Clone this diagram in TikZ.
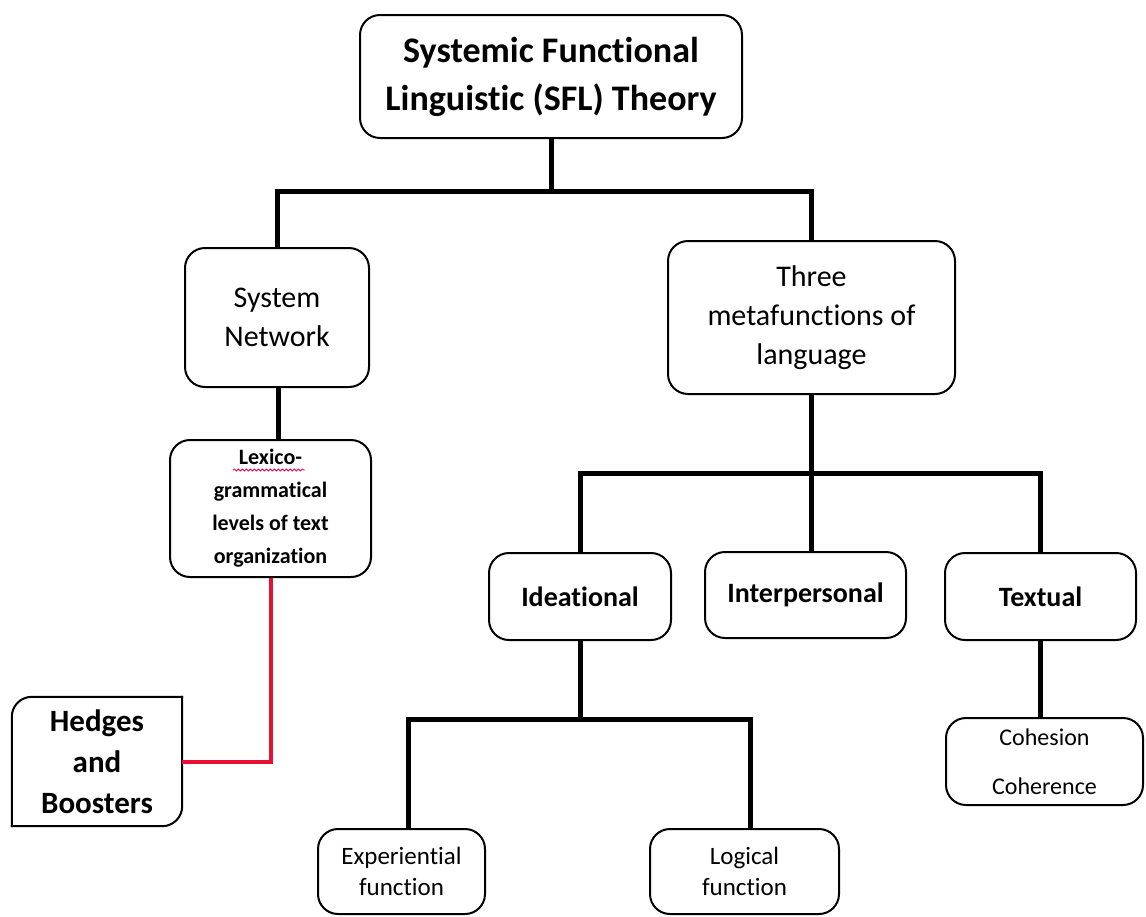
\documentclass[tikz,border=0pt]{standalone}
\usepackage{fontspec}
\setmainfont{Carlito}[Ligatures={NoCommon}]
\usetikzlibrary{calc, decorations.pathmorphing}
\definecolor{linkred}{RGB}{232,16,48}
\tikzset{
  sfl_box/.style = {align=center, inner sep=0pt, text centered,
    draw=black, line width=2pt, rounded corners=20pt},% boite arrondie
  sfl_big/.style = {sfl_box, font=\fontsize{36}{48}\selectfont\bfseries},% titre
  sfl_mid/.style = {sfl_box, font=\fontsize{30}{39}\selectfont},% niveau 1
  sfl_bold/.style = {sfl_box, font=\fontsize{28}{34}\selectfont\bfseries},% metafonctions
  sfl_small/.style = {sfl_box, font=\fontsize{25}{31}\selectfont},% feuilles
  conn/.style = {line width=5pt, black},
  conn_r/.style = {line width=4pt, linkred}
}
\begin{document}
\begin{tikzpicture}[x=1pt, y=-1pt]
\useasboundingbox (0,0) rectangle (1146,916);

\node[sfl_big, minimum width=382pt, minimum height=123pt] (t1) at (551,76.5)
	{Systemic Functional\\Linguistic (SFL) Theory};
\node[sfl_mid, minimum width=184pt, minimum height=139pt] (sn) at (277,317.5)
	{System\\Network};
\node[sfl_mid, minimum width=287pt, minimum height=153pt] (mf) at (811.5,317.5)
	{Three\\metafunctions of\\language};
\node[sfl_box, font=\fontsize{22}{33}\selectfont\bfseries,
	minimum width=201pt, minimum height=137pt] (lx) at (270.5,508.5)
	{Lexico-\\grammatical\\levels of text\\organization};
\node[align=center, inner sep=0pt, font=\fontsize{31}{41}\selectfont\bfseries,
	minimum width=170pt, minimum height=129pt] (hb) at (97,761.5)
	{Hedges\\and\\Boosters};
\node[sfl_bold, minimum width=182pt, minimum height=87pt] (id) at (580,596.5) {Ideational};
\node[sfl_bold, minimum width=201pt, minimum height=86pt] (ip) at (805.5,595) {Interpersonal};
\node[sfl_bold, minimum width=191pt, minimum height=87pt] (tx) at (1040.5,596.5) {Textual};
\node[sfl_small, font=\fontsize{24}{49}\selectfont,
	minimum width=197pt, minimum height=87pt] (co) at (1044.5,761.5)
	{Cohesion\\Coherence};
\node[sfl_small, minimum width=167pt, minimum height=85pt] (ex) at (401.5,871.5)
	{Experiential\\function};
\node[sfl_small, minimum width=189pt, minimum height=85pt] (lg) at (744.5,871.5)
	{Logical\\function};

% cadre de Hedges : deux coins arrondis seulement
\draw[line width=2pt, line cap=rect, rounded corners=20pt]
	(hb.south west) -- (hb.north west) -- (hb.north east);
\draw[line width=2pt, line cap=rect, rounded corners=20pt]
	(hb.north east) -- (hb.south east) -- (hb.south west);

% liens
\draw[conn] (t1.south) -- ++(0,52) -| (sn.north);
\draw[conn] (t1.south) -- ++(0,52) -| (mf.north);
\draw[conn] ([xshift=1pt]sn.south) -- ([xshift=1pt]sn.south |- lx.north);
\draw[conn] (mf.south) -- ++(0,78) -| (id.north);
\draw[conn] (mf.south) -- ++(0,78) -| (tx.north);
\draw[conn] (mf.south) -- (mf.south |- ip.north);
\draw[conn] (tx.south) -- (tx.south |- co.north);
\draw[conn] (id.south) -- ++(0,78) -| ([xshift=6.5pt]ex.north);
\draw[conn] (id.south) -- ++(0,78) -| ([xshift=5.5pt]lg.north);
\draw[conn_r] (lx.south) |- (hb.east);

% soulignement ondule sous Lexico
\draw[red!70!magenta, line width=0.8pt, decorate,
	decoration={snake, amplitude=1pt, segment length=4pt}]
	(233,470) -- (305,470);
\end{tikzpicture}
\end{document}
